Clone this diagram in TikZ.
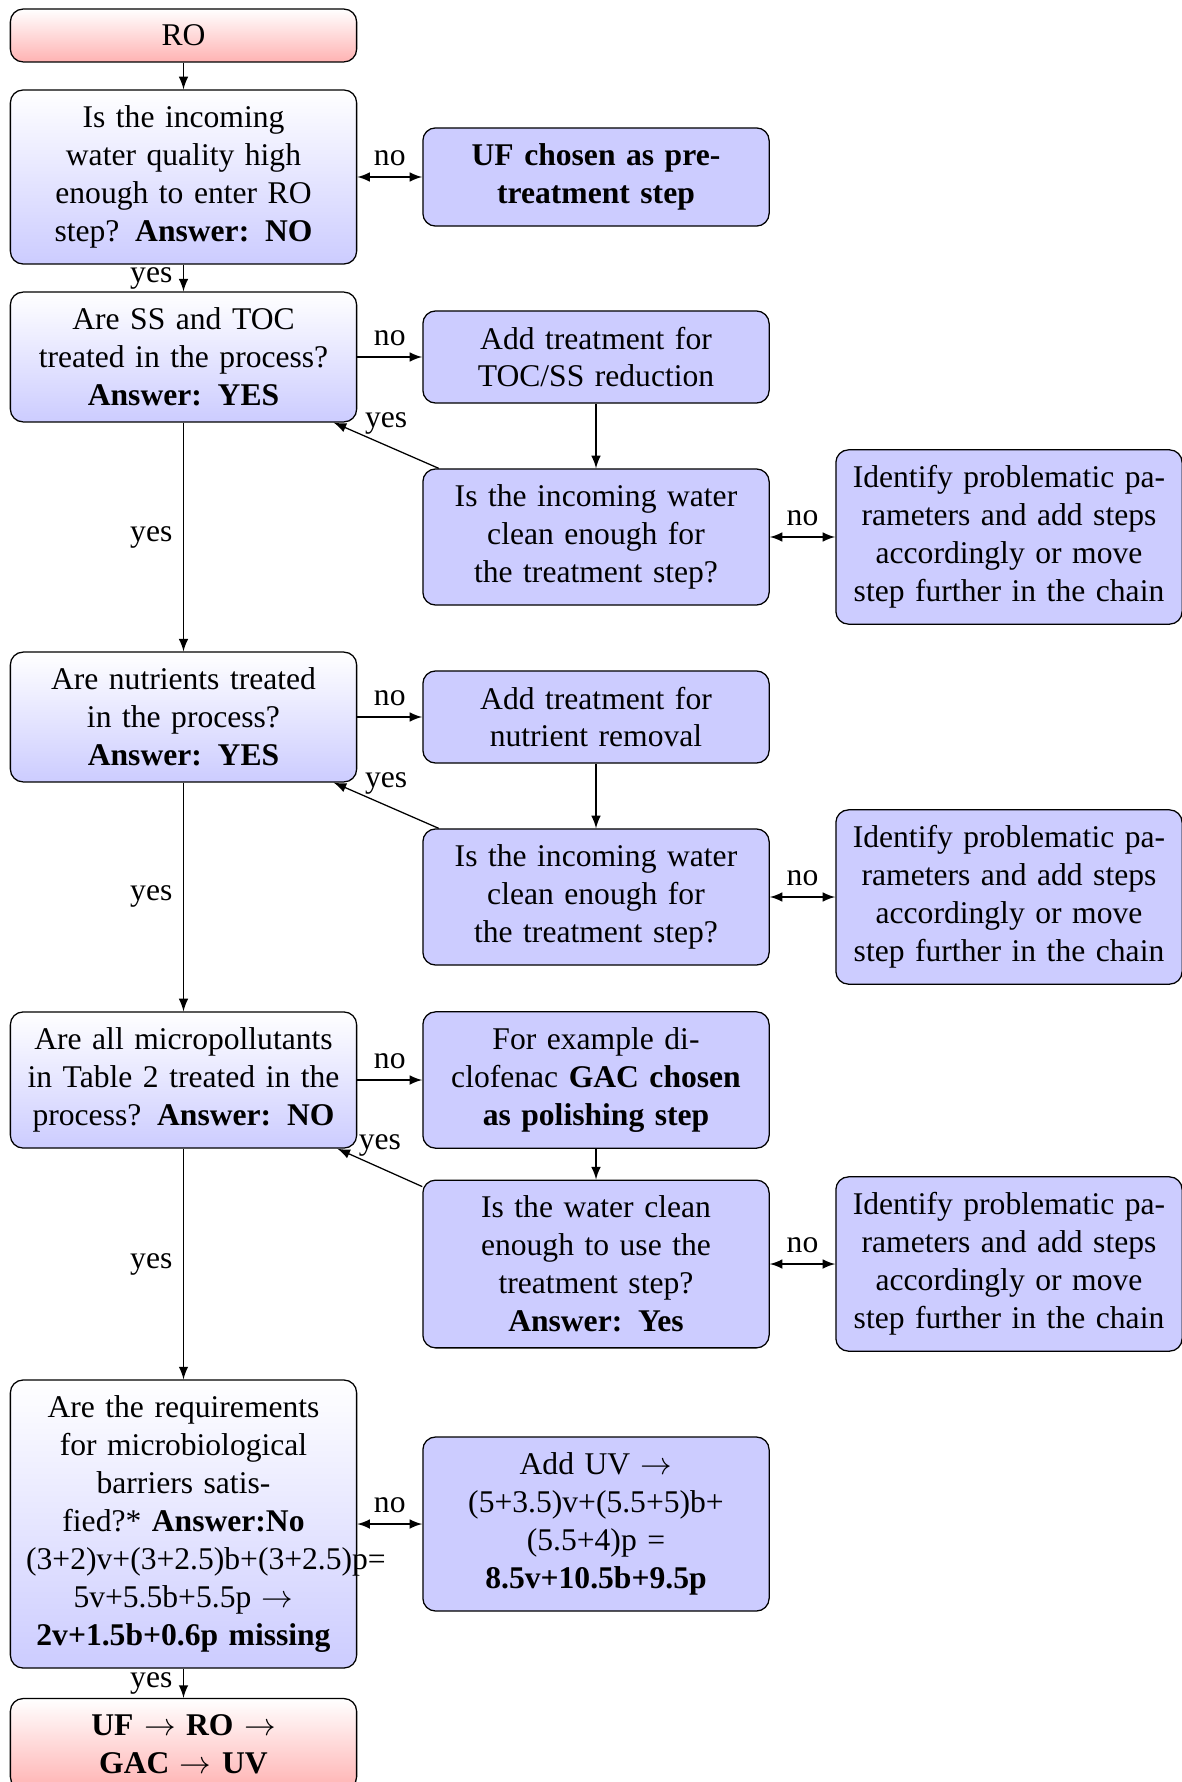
\documentclass[tikz,border=0pt]{standalone}
\usepackage{fontspec}
\setmainfont{Liberation Serif}
\usetikzlibrary{arrows}

\begin{document}
\begin{tikzpicture}[x=0.3165pt, y=-0.3165pt,
  box/.style={draw=black, line width=0.4pt, rounded corners=4pt, text width=3.5cm,
    align=center, inner xsep=5pt, inner ysep=5pt, font=\fontsize{10}{12}\selectfont},
  question/.style={box, top color=white, bottom color=blue!20},
  action/.style={box, fill=blue!20},
  terminal/.style={box, top color=white, bottom color=red!30},
  flow/.style={-latex, line width=0.4pt},
  both/.style={latex-latex, line width=0.4pt},
  lbl/.style={font=\fontsize{10}{12}\selectfont}
]
\useasboundingbox (0,0) rectangle (1182,1782);

% left column: main decision chain
\node[terminal] (ro) at (183.5,35.5) {RO};
\node[question] (q1) at (183.5,177) {Is the incoming water quality high enough to enter RO step? \textbf{Answer: NO}};
\node[question] (q2) at (183.5,357) {Are SS and TOC treated in the process? \textbf{Answer: YES}};
\node[question] (q3) at (183.5,717) {Are nutrients treated in the process? \textbf{Answer: YES}};
\node[question] (q4) at (183.5,1080) {Are all micropollutants in Table 2 treated in the process? \textbf{Answer: NO}};
\node[question] (q5) at (183.5,1524) {Are the requirements for microbiological barriers satisfied?* \textbf{Answer:No} (3+2)v+(3+2.5)b+(3+2.5)p= 5v+5.5b+5.5p $\rightarrow$ \textbf{2v+1.5b+0.6p missing}};
\node[terminal] (final) at (183.5,1744) {\textbf{UF $\rightarrow$ RO $\rightarrow$ GAC $\rightarrow$ UV}};

% middle column: treatments and checks
\node[action] (uf) at (596,177) {\textbf{UF chosen as pre-treatment step}};
\node[action] (toc) at (596,357) {Add treatment for TOC/SS reduction};
\node[action] (chk1) at (596,537) {Is the incoming water clean enough for the treatment step?};
\node[action] (nut) at (596,717) {Add treatment for nutrient removal};
\node[action] (chk2) at (596,897) {Is the incoming water clean enough for the treatment step?};
\node[action] (gac) at (596,1080) {For example di-\\clofenac \textbf{GAC chosen as polishing step}};
\node[action] (chk3) at (596,1264) {Is the water clean enough to use the treatment step? \textbf{Answer: Yes}};
\node[action] (uv) at (596,1524) {Add UV $\rightarrow$ (5+3.5)v+(5.5+5)b+ (5.5+4)p = \textbf{8.5v+10.5b+9.5p}};

% right column: fall-back actions
\node[action] (id1) at (1009,537) {Identify problematic parameters and add steps accordingly or move step further in the chain};
\node[action] (id2) at (1009,897) {Identify problematic parameters and add steps accordingly or move step further in the chain};
\node[action] (id3) at (1009,1264) {Identify problematic parameters and add steps accordingly or move step further in the chain};

% main chain
\draw[flow] (ro) -- (q1);
\draw[flow] (q1) -- node[lbl, left] {yes} (q2);
\draw[flow] (q2) -- node[lbl, left] {yes} (q3);
\draw[flow] (q3) -- node[lbl, left] {yes} (q4);
\draw[flow] (q4) -- node[lbl, left] {yes} (q5);
\draw[flow] (q5) -- node[lbl, left] {yes} (final);

% "no" branches
\draw[both] (q1) -- node[lbl, above] {no} (uf);
\draw[flow] (q2) -- node[lbl, above] {no} (toc);
\draw[flow] (q3) -- node[lbl, above] {no} (nut);
\draw[flow] (q4) -- node[lbl, above] {no} (gac);
\draw[both] (q5) -- node[lbl, above] {no} (uv);

% checks after each added treatment
\draw[flow] (toc) -- (chk1);
\draw[flow] (nut) -- (chk2);
\draw[flow] (gac) -- (chk3);
\draw[both] (chk1) -- node[lbl, above] {no} (id1);
\draw[both] (chk2) -- node[lbl, above] {no} (id2);
\draw[both] (chk3) -- node[lbl, above] {no} (id3);
\draw[flow] (chk1) -- node[lbl, above] {yes} (q2);
\draw[flow] (chk2) -- node[lbl, above] {yes} (q3);
\draw[flow] (chk3) -- node[lbl, above] {yes} (q4);
\end{tikzpicture}
\end{document}
